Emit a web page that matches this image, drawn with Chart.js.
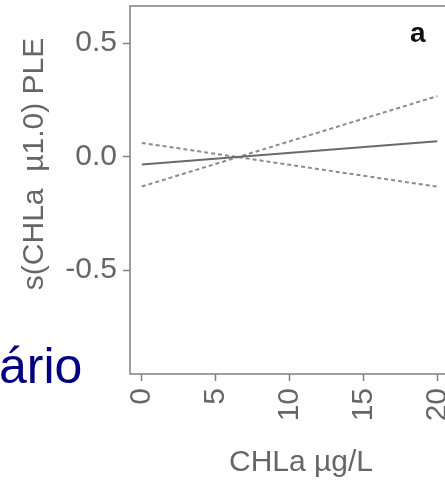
<!DOCTYPE html>
<html>
<head>
<meta charset="utf-8">
<script src="https://cdn.jsdelivr.net/npm/chart.js@4.4.1/dist/chart.umd.min.js"></script>
<style>
  html, body { margin: 0; padding: 0; background: #fff; overflow: hidden; }
  #wrap { position: relative; width: 445px; height: 481px; overflow: hidden; }
  #chart { position: absolute; left: 0; top: 0; }
  #slideText {
    position: absolute; left: -1px; top: 341px;
    font: 50px/50px "Liberation Sans", Arial, sans-serif;
    color: #000080; white-space: nowrap;
  }
</style>
</head>
<body>
<div id="wrap">
  <canvas id="chart" width="458" height="481"></canvas>
  <div id="slideText">ário</div>
</div>
<script>
// Partial effect of CHLa (GAM smooth)
const chla = [0, 20];
const fitValues = [-0.035, 0.067];
const bandA = [-0.132, 0.266];
const bandB = [0.060, -0.133];

const xTicks = [0, 5, 10, 15, 20];
const xTickLabels = ['0', '5', '10', '15', '20'];
const yTicks = [-0.5, 0, 0.5];
const yTickLabels = ['-0.5', '0.0', '0.5'];

const xTitle = 'CHLa \u00b5g/L';
const yTitle = 's(CHLa  \u00b51.0) PLE';
const panelLabel = 'a';

const textGrey = '#666666';
const axisGrey = '#808080';
const fontFamily = "'Liberation Sans', Arial, sans-serif";

function toPoints(xs, ys) {
  return xs.map(function (x, i) { return { x: x, y: ys[i] }; });
}

// frame + titles + panel letter (R base-graphics look)
const decorations = {
  id: 'decorations',
  beforeDatasetsDraw(chart) {
    const a = chart.chartArea;
    const ctx = chart.ctx;
    ctx.save();
    ctx.strokeStyle = axisGrey;
    ctx.lineWidth = 1.5;
    ctx.strokeRect(a.left, a.top, a.right - a.left, a.bottom - a.top);
    ctx.restore();
  },
  afterDraw(chart) {
    const ctx = chart.ctx;
    ctx.save();
    ctx.fillStyle = textGrey;
    ctx.font = '30px ' + fontFamily;
    ctx.textAlign = 'center';
    ctx.textBaseline = 'alphabetic';
    ctx.fillText(xTitle, 301, 471);

    ctx.translate(43, 164);
    ctx.rotate(-Math.PI / 2);
    ctx.fillText(yTitle, 0, 0);
    ctx.restore();

    ctx.save();
    ctx.fillStyle = '#111111';
    ctx.font = 'bold 28px ' + fontFamily;
    ctx.textAlign = 'left';
    ctx.textBaseline = 'alphabetic';
    ctx.fillText(panelLabel, 410, 42);
    ctx.restore();
  }
};

const ctx = document.getElementById('chart').getContext('2d');

new Chart(ctx, {
  type: 'line',
  data: {
    datasets: [
      {
        data: toPoints(chla, fitValues),
        borderColor: '#6a6a6a',
        borderWidth: 2,
      },
      {
        data: toPoints(chla, bandA),
        borderColor: '#8c8c8c',
        borderWidth: 2,
        borderDash: [4, 3],
      },
      {
        data: toPoints(chla, bandB),
        borderColor: '#8c8c8c',
        borderWidth: 2,
        borderDash: [4, 3],
      },
    ],
  },
  options: {
    responsive: false,
    animation: false,
    layout: { padding: { top: 6, right: 0, left: 0, bottom: 0 } },
    elements: {
      point: { radius: 0 },
      line: { tension: 0, fill: false },
    },
    plugins: {
      legend: { display: false },
      tooltip: { enabled: false },
    },
    scales: {
      x: {
        type: 'linear',
        min: -0.8,
        max: 21.4,
        afterFit: function (scale) {
          scale.height = 107;
          scale.paddingLeft = 0;
          scale.paddingRight = 0;
        },
        afterBuildTicks: function (scale) {
          scale.ticks = xTicks.map(function (v) { return { value: v }; });
        },
        grid: {
          drawOnChartArea: false,
          drawTicks: true,
          tickLength: 7,
          tickWidth: 1.5,
          tickColor: axisGrey,
        },
        border: { display: false },
        ticks: {
          autoSkip: false,
          minRotation: 90,
          maxRotation: 90,
          padding: 7,
          color: textGrey,
          font: { family: fontFamily, size: 30 },
          callback: function (v) {
            const i = xTicks.indexOf(v);
            return i >= 0 ? xTickLabels[i] : '';
          },
        },
      },
      y: {
        type: 'linear',
        min: -0.958,
        max: 0.663,
        afterFit: function (scale) {
          scale.width = 130;
          scale.paddingTop = 0;
          scale.paddingBottom = 0;
        },
        afterBuildTicks: function (scale) {
          scale.ticks = yTicks.map(function (v) { return { value: v }; });
        },
        grid: {
          drawOnChartArea: false,
          drawTicks: true,
          tickLength: 7,
          tickWidth: 1.5,
          tickColor: axisGrey,
        },
        border: { display: false },
        ticks: {
          padding: 6,
          color: textGrey,
          font: { family: fontFamily, size: 30 },
          callback: function (v) {
            const i = yTicks.indexOf(v);
            return i >= 0 ? yTickLabels[i] : '';
          },
        },
      },
    },
  },
  plugins: [decorations],
});
</script>
</body>
</html>
